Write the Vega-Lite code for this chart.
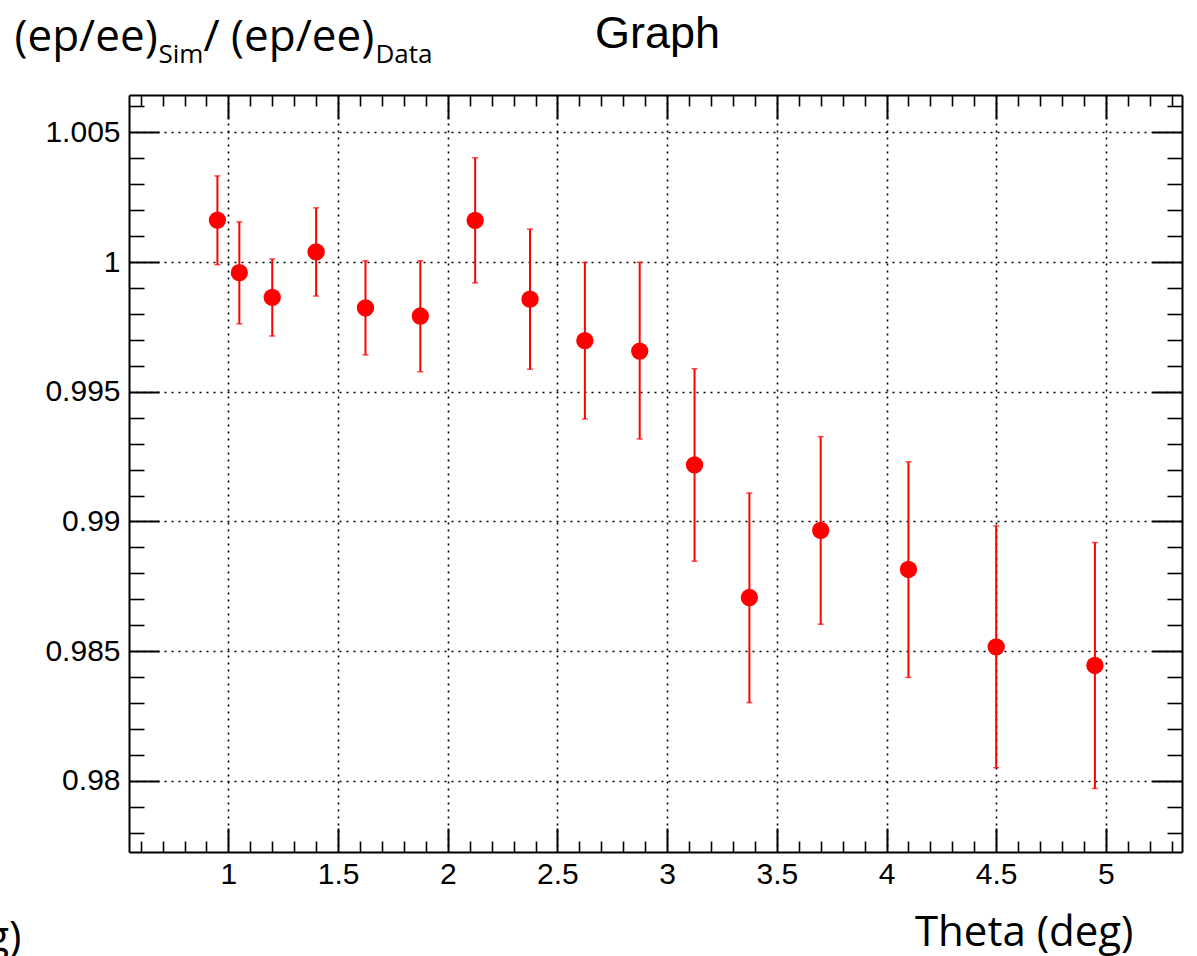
{
  "$schema": "https://vega.github.io/schema/vega-lite/v6.json",
  "autosize": "none",
  "width": 1053,
  "height": 757,
  "padding": {"left": 129, "top": 95, "right": 15, "bottom": 104},
  "background": "white",
  "data": {"values": [
    {"theta": 0.95, "ratio": 1.00162, "lo": 0.99990, "hi": 1.00332},
    {"theta": 1.05, "ratio": 0.99959, "lo": 0.99762, "hi": 1.00155},
    {"theta": 1.2, "ratio": 0.99864, "lo": 0.99715, "hi": 1.00012},
    {"theta": 1.4, "ratio": 1.00039, "lo": 0.99869, "hi": 1.00209},
    {"theta": 1.625, "ratio": 0.99823, "lo": 0.99642, "hi": 1.00005},
    {"theta": 1.875, "ratio": 0.99792, "lo": 0.99577, "hi": 1.00005},
    {"theta": 2.125, "ratio": 1.00161, "lo": 0.99920, "hi": 1.00402},
    {"theta": 2.375, "ratio": 0.99857, "lo": 0.99587, "hi": 1.00127},
    {"theta": 2.625, "ratio": 0.99697, "lo": 0.99395, "hi": 0.99999},
    {"theta": 2.875, "ratio": 0.99657, "lo": 0.99318, "hi": 0.99999},
    {"theta": 3.125, "ratio": 0.99218, "lo": 0.98847, "hi": 0.99589},
    {"theta": 3.375, "ratio": 0.98707, "lo": 0.98302, "hi": 0.99110},
    {"theta": 3.7, "ratio": 0.98966, "lo": 0.98604, "hi": 0.99327},
    {"theta": 4.1, "ratio": 0.98815, "lo": 0.98399, "hi": 0.99230},
    {"theta": 4.5, "ratio": 0.98517, "lo": 0.98051, "hi": 0.98983},
    {"theta": 4.95, "ratio": 0.98445, "lo": 0.97971, "hi": 0.98919}
  ]},
  "resolve": {"axis": {"x": "independent", "y": "independent"}},
  "layer": [
    {
      "mark": {"type": "rule", "color": "#ff0000", "strokeWidth": 2},
      "encoding": {
        "x": {"field": "theta", "type": "quantitative",
          "scale": {"domain": [0.547, 5.347], "nice": false, "zero": false},
          "axis": {"orient": "bottom", "values": [1, 1.5, 2, 2.5, 3, 3.5, 4, 4.5, 5], "format": "~g",
            "grid": true, "gridColor": "black", "gridDash": [2, 5], "gridWidth": 1.6, "gridOpacity": 1,
            "ticks": false, "labelPadding": 7, "domain": true,
            "title": "Theta (deg)", "titleFont": "Open Sans", "titleFontSize": 42,
            "titleX": 1004, "titleY": 93, "titleAlign": "right", "titleBaseline": "alphabetic"}},
        "y": {"field": "lo", "type": "quantitative",
          "scale": {"domain": [0.97726, 1.00644], "nice": false, "zero": false},
          "axis": {"orient": "left", "values": [0.98, 0.985, 0.99, 0.995, 1, 1.005], "format": "~g",
            "grid": true, "gridColor": "black", "gridDash": [2, 5], "gridWidth": 1.6, "gridOpacity": 1,
            "ticks": false, "labelPadding": 9, "domain": true,
            "title": "(ep/ee)", "titleFont": "Open Sans", "titleFontSize": 44, "titleAngle": 0,
            "titleX": -115, "titleY": -45, "titleAlign": "left", "titleBaseline": "alphabetic"}},
        "y2": {"field": "hi"}
      }
    },
    {
      "mark": {"type": "tick", "color": "#ff0000", "orient": "horizontal", "size": 6, "thickness": 1.5},
      "encoding": {
        "x": {"field": "theta", "type": "quantitative",
          "scale": {"domain": [0.547, 5.347], "nice": false, "zero": false},
          "axis": {"orient": "bottom", "values": [1, 1.5, 2, 2.5, 3, 3.5, 4, 4.5, 5],
            "tickSize": -24, "tickWidth": 2, "labels": false, "domain": false, "grid": false, "title": null}},
        "y": {"field": "hi", "type": "quantitative",
          "scale": {"domain": [0.97726, 1.00644], "nice": false, "zero": false},
          "axis": {"orient": "left", "values": [0.98, 0.985, 0.99, 0.995, 1, 1.005],
            "tickSize": -30, "tickWidth": 2, "labels": false, "domain": false, "grid": false, "title": null}}
      }
    },
    {
      "mark": {"type": "tick", "color": "#ff0000", "orient": "horizontal", "size": 6, "thickness": 1.5},
      "encoding": {
        "x": {"field": "theta", "type": "quantitative",
          "scale": {"domain": [0.547, 5.347], "nice": false, "zero": false},
          "axis": {"orient": "bottom", "values": [0.6, 0.7, 0.8, 0.9, 1.1, 1.2, 1.3, 1.4, 1.6, 1.7, 1.8, 1.9, 2.1, 2.2, 2.3, 2.4, 2.6, 2.7, 2.8, 2.9, 3.1, 3.2, 3.3, 3.4, 3.6, 3.7, 3.8, 3.9, 4.1, 4.2, 4.3, 4.4, 4.6, 4.7, 4.8, 4.9, 5.1, 5.2, 5.3],
            "tickSize": -11, "tickWidth": 1.6, "labels": false, "domain": false, "grid": false, "title": null}},
        "y": {"field": "lo", "type": "quantitative",
          "scale": {"domain": [0.97726, 1.00644], "nice": false, "zero": false},
          "axis": {"orient": "left", "values": [0.978, 0.979, 0.981, 0.982, 0.983, 0.984, 0.986, 0.987, 0.988, 0.989, 0.991, 0.992, 0.993, 0.994, 0.996, 0.997, 0.998, 0.999, 1.001, 1.002, 1.003, 1.004, 1.006],
            "tickSize": -15, "tickWidth": 1.6, "labels": false, "domain": false, "grid": false, "title": null}}
      }
    },
    {
      "mark": {"type": "point", "shape": "circle", "filled": true, "color": "#ff0000", "opacity": 1, "size": 300},
      "encoding": {
        "x": {"field": "theta", "type": "quantitative",
          "scale": {"domain": [0.547, 5.347], "nice": false, "zero": false},
          "axis": {"orient": "top", "values": [1, 1.5, 2, 2.5, 3, 3.5, 4, 4.5, 5],
            "tickSize": -24, "tickWidth": 2, "labels": false, "domain": true, "grid": false,
            "title": "Graph", "titleFont": "Liberation Sans", "titleFontSize": 45,
            "titleX": 528, "titleY": -48, "titleAlign": "center", "titleBaseline": "alphabetic"}},
        "y": {"field": "ratio", "type": "quantitative",
          "scale": {"domain": [0.97726, 1.00644], "nice": false, "zero": false},
          "axis": {"orient": "right", "values": [0.98, 0.985, 0.99, 0.995, 1, 1.005],
            "tickSize": -30, "tickWidth": 2, "labels": false, "domain": true, "grid": false, "title": null}}
      }
    },
    {
      "mark": {"type": "point", "opacity": 0},
      "encoding": {
        "x": {"field": "theta", "type": "quantitative",
          "scale": {"domain": [0.547, 5.347], "nice": false, "zero": false},
          "axis": {"orient": "top", "values": [0.6, 0.7, 0.8, 0.9, 1.1, 1.2, 1.3, 1.4, 1.6, 1.7, 1.8, 1.9, 2.1, 2.2, 2.3, 2.4, 2.6, 2.7, 2.8, 2.9, 3.1, 3.2, 3.3, 3.4, 3.6, 3.7, 3.8, 3.9, 4.1, 4.2, 4.3, 4.4, 4.6, 4.7, 4.8, 4.9, 5.1, 5.2, 5.3],
            "tickSize": -11, "tickWidth": 1.6, "labels": false, "domain": false, "grid": false, "title": null}},
        "y": {"field": "ratio", "type": "quantitative",
          "scale": {"domain": [0.97726, 1.00644], "nice": false, "zero": false},
          "axis": {"orient": "right", "values": [0.978, 0.979, 0.981, 0.982, 0.983, 0.984, 0.986, 0.987, 0.988, 0.989, 0.991, 0.992, 0.993, 0.994, 0.996, 0.997, 0.998, 0.999, 1.001, 1.002, 1.003, 1.004, 1.006],
            "tickSize": -15, "tickWidth": 1.6, "labels": false, "domain": false, "grid": false, "title": null}}
      }
    },
    {
      "mark": {"type": "point", "opacity": 0},
      "encoding": {
        "x": {"field": "theta", "type": "quantitative",
          "scale": {"domain": [0.547, 5.347], "nice": false, "zero": false},
          "axis": {"orient": "bottom", "values": [], "ticks": false, "labels": false, "domain": false, "grid": false,
            "title": "(deg)", "titleFont": "Open Sans", "titleFontSize": 42,
            "titleX": -108, "titleY": 98, "titleAlign": "right", "titleBaseline": "alphabetic"}},
        "y": {"field": "ratio", "type": "quantitative",
          "scale": {"domain": [0.97726, 1.00644], "nice": false, "zero": false},
          "axis": {"orient": "left", "values": [], "ticks": false, "labels": false, "domain": false, "grid": false,
            "title": "Sim", "titleFont": "Open Sans", "titleFontSize": 26, "titleAngle": 0,
            "titleX": 29, "titleY": -33, "titleAlign": "left", "titleBaseline": "alphabetic"}}
      }
    },
    {
      "mark": {"type": "point", "opacity": 0},
      "encoding": {
        "x": {"field": "theta", "type": "quantitative",
          "scale": {"domain": [0.547, 5.347], "nice": false, "zero": false}, "axis": null},
        "y": {"field": "ratio", "type": "quantitative",
          "scale": {"domain": [0.97726, 1.00644], "nice": false, "zero": false},
          "axis": {"orient": "left", "values": [], "ticks": false, "labels": false, "domain": false, "grid": false,
            "title": "/ (ep/ee)", "titleFont": "Open Sans", "titleFontSize": 44, "titleAngle": 0,
            "titleX": 74, "titleY": -45, "titleAlign": "left", "titleBaseline": "alphabetic"}}
      }
    },
    {
      "mark": {"type": "point", "opacity": 0},
      "encoding": {
        "x": {"field": "theta", "type": "quantitative",
          "scale": {"domain": [0.547, 5.347], "nice": false, "zero": false}, "axis": null},
        "y": {"field": "ratio", "type": "quantitative",
          "scale": {"domain": [0.97726, 1.00644], "nice": false, "zero": false},
          "axis": {"orient": "left", "values": [], "ticks": false, "labels": false, "domain": false, "grid": false,
            "title": "Data", "titleFont": "Open Sans", "titleFontSize": 26, "titleAngle": 0,
            "titleX": 246, "titleY": -33, "titleAlign": "left", "titleBaseline": "alphabetic"}}
      }
    }
  ],
  "config": {
    "view": {"stroke": null},
    "axis": {
      "labelFont": "Liberation Sans", "labelFontSize": 30, "labelColor": "black",
      "tickColor": "black", "domainColor": "black", "domainWidth": 2,
      "titleFontWeight": "normal", "titleColor": "black", "labelOverlap": false, "labelFlush": false
    }
  }
}
